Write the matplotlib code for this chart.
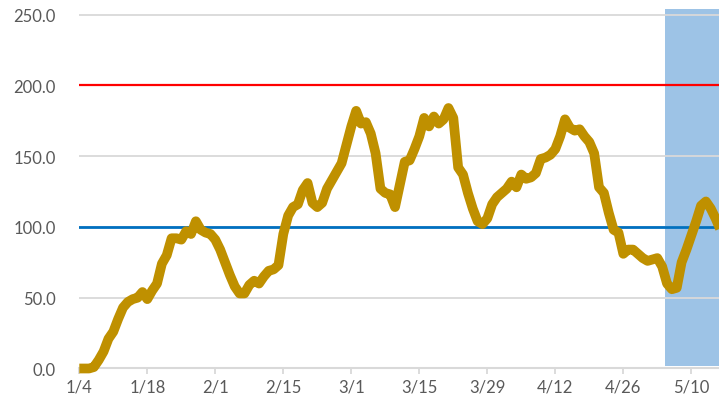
import matplotlib.pyplot as plt
import numpy as np

plt.rcParams['font.family'] = ['Lato', 'DejaVu Sans']

# daily values starting 1/4
values = [0, 0, 0, 1, 6, 12, 21, 26, 35, 43,
          47, 49, 50, 54, 49, 55, 60, 74, 80, 92,
          92, 91, 97, 95, 104, 98, 96, 95, 91, 84,
          75, 66, 58, 53, 53, 59, 62, 60, 65, 69,
          70, 73, 95, 108, 114, 116, 126, 131, 117, 114,
          117, 127, 133, 139, 145, 158, 171, 182, 173, 174,
          166, 152, 127, 124, 123, 114, 130, 146, 147, 155,
          164, 177, 171, 178, 173, 176, 184, 177, 142, 137,
          124, 113, 104, 102, 106, 116, 121, 124, 127, 132,
          128, 137, 134, 135, 138, 148, 149, 151, 155, 164,
          176, 170, 168, 169, 164, 160, 152, 128, 124, 110,
          98, 96, 81, 84, 84, 81, 78, 76, 77, 78,
          72, 60, 56, 57, 75, 84, 94, 104, 115, 118,
          113, 106, 98]
tick_labels = ['1/4', '1/18', '2/1', '2/15', '3/1', '3/15', '3/29', '4/12', '4/26', '5/10']
tick_days = [0, 14, 28, 42, 56, 70, 84, 98, 112, 126]
shade_start = 120.6
red_level = 200
blue_level = 100

days = np.arange(len(values))

fig = plt.figure(figsize=(7.19, 4.10), dpi=100)
ax = fig.add_axes([0.1103, 0.0988, 0.8897, 0.877])

ax.axvspan(shade_start, 140, ymin=2 / 254, ymax=1, color='#9DC3E6', lw=0, zorder=0.1)
ax.axhline(red_level, color='#FF0000', lw=1.6, zorder=2)
ax.axhline(blue_level, color='#0070C0', lw=2.0, zorder=2)
ax.plot(days, values, color='#BF9000', lw=7, solid_joinstyle='round',
        solid_capstyle='butt', zorder=3, clip_on=False)

ax.set_xlim(0, 131.7)
ax.set_ylim(0, 254)
ax.set_yticks(np.arange(0, 251, 50))
ax.set_yticklabels([f'{v:.1f}' for v in np.arange(0, 251, 50)])
ax.set_xticks(tick_days)
ax.set_xticklabels(tick_labels)

ax.set_axisbelow(True)
ax.grid(axis='y', color='#D9D9D9', lw=1.3)
for s in ['top', 'right', 'left']:
    ax.spines[s].set_visible(False)
ax.spines['bottom'].set_color('#D9D9D9')
ax.spines['bottom'].set_linewidth(1.5)
ax.tick_params(axis='y', length=0, pad=17, labelsize=12, labelcolor='#595959')
ax.tick_params(axis='x', length=4.5, width=1.3, color='#D9D9D9', pad=3,
               labelsize=12, labelcolor='#595959')

fig.savefig('out.png', dpi=100)
